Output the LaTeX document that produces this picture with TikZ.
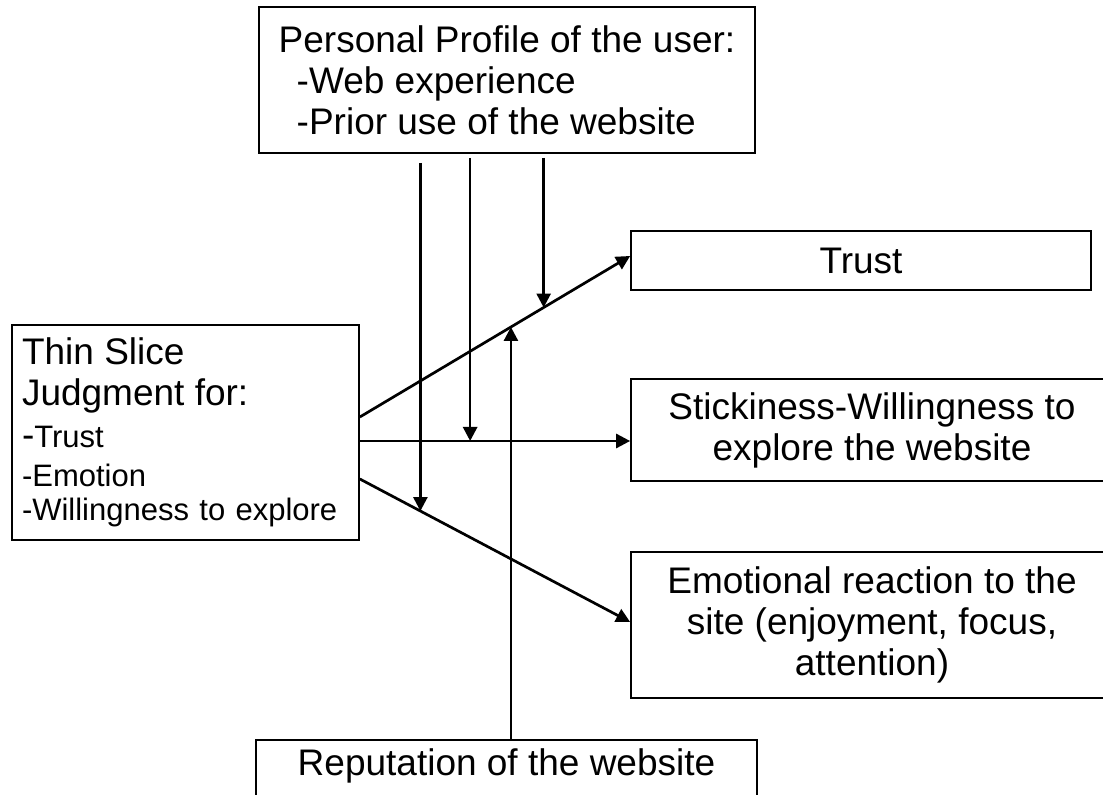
\documentclass[tikz,border=0pt]{standalone}
\usepackage{fontspec}
\setmainfont{Liberation Sans}
\usetikzlibrary{arrows.meta,positioning,calc}
\newcommand{\bigtxt}{\fontsize{18.5}{20.5}\selectfont}
\newcommand{\smalltxt}{\fontsize{15.5}{17}\selectfont}

\begin{document}
\begin{tikzpicture}[x=0.5pt, y=-0.5pt,
  box/.style={draw, line width=0.85pt, inner sep=0pt, font=\bigtxt, align=center},
  arr/.style={-{Triangle[length=7pt,width=7pt]}, line width=1.35pt}
]
\useasboundingbox (0,0) rectangle (1103,795);
\clip (0,0) rectangle (1103,795);

\node[box, minimum width=248pt, minimum height=73pt, align=left]
  (profile) at (507,80) {Personal Profile of the user:\\\hspace*{9pt}-Web experience\\\hspace*{9pt}-Prior use of the website};
\node[box, minimum width=173.5pt, minimum height=107.5pt, inner xsep=5pt, text width=163.5pt, align=left, font=\smalltxt]
  (thin) at (185.5,432.5) {{\bigtxt Thin Slice}\\[3.5pt]{\bigtxt Judgment for:}\\[4pt]{\bigtxt -}Trust\\[2.5pt]-Emotion\\-Willingness to explore};
\node[box, minimum width=230pt, minimum height=29.5pt] (trust) at (861,260.5) {Trust};
\node[box, minimum width=241pt, minimum height=51pt] (stick) at (872,430) {Stickiness-Willingness to\\explore the website};
\node[box, minimum width=241pt, minimum height=73pt] (emo) at (872,625) {Emotional reaction to the\\site (enjoyment, focus,\\attention)};
\node[box, anchor=north, minimum width=250.5pt, inner ysep=4.5pt, text depth=25pt] (rep) at (506.5,739) {Reputation of the website};

\draw[arr] ([yshift=7.75pt]thin.east) -- ([yshift=2.25pt]trust.west)
  coordinate[pos=0.680] (trustmid) coordinate[pos=0.559] (repmid);
\draw[arr] ([yshift=-4.25pt]thin.east) -- ([yshift=-4.25pt]thin.east -| stick.west)
  coordinate[pos=0.408] (stickmid);
\draw[arr] ([yshift=-23.25pt]thin.east) -- ([yshift=1.5pt]emo.west)
  coordinate[pos=0.224] (emomid);

\draw[arr] ([yshift=-4.5pt]profile.south -| emomid) -- (emomid);
\draw[arr] ([yshift=-2pt]profile.south -| stickmid) -- (stickmid);
\draw[arr] ([yshift=-2pt]profile.south -| trustmid) -- (trustmid);
\draw[arr] (rep.north -| repmid) -- (repmid);
\end{tikzpicture}
\end{document}
